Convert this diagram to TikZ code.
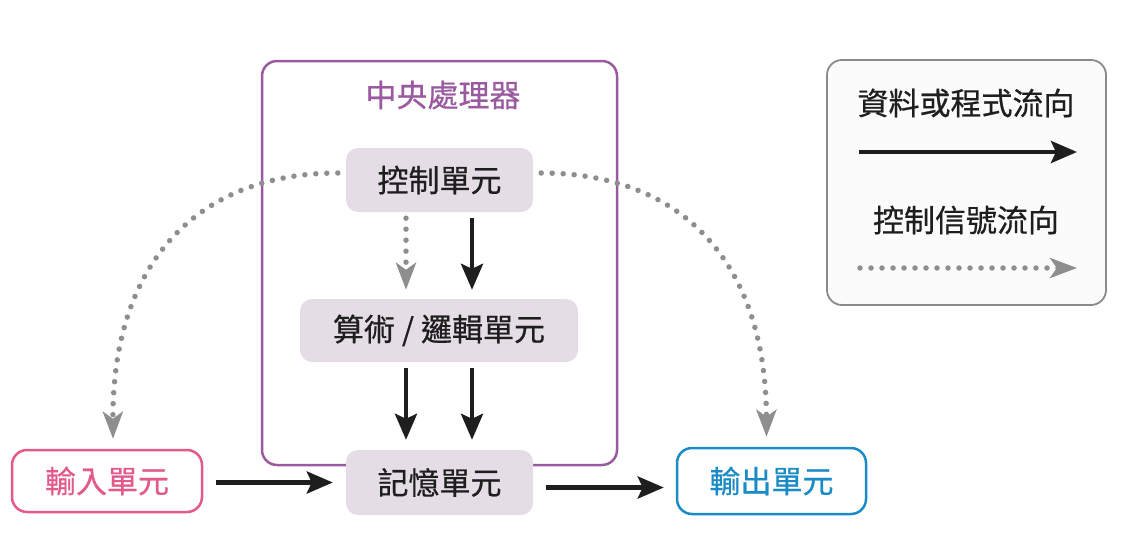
\documentclass[tikz,border=0pt]{standalone}
\usepackage{fontspec}
\setmainfont{Noto Sans CJK TC}[FakeBold=0.6]
\usetikzlibrary{arrows.meta,calc}
\definecolor{cpuc}{HTML}{9A5AA0}
\definecolor{boxfill}{HTML}{E5DDE6}
\definecolor{pinkc}{HTML}{E2598A}
\definecolor{bluec}{HTML}{1A8BC6}
\definecolor{dotgray}{HTML}{8E8E8E}
\definecolor{txt}{HTML}{1E1E1E}
\definecolor{leggray}{HTML}{8A8A8A}
\begin{document}
\begin{tikzpicture}[x=1pt,y=-1pt,
  lbl/.style={font=\fontsize{31}{33}\selectfont, text=txt, inner sep=0pt},
  unitbox/.style={lbl, fill=boxfill, rounded corners=12pt},
  iobox/.style={lbl, draw, fill=white, line width=2.5pt, rounded corners=15pt},
  flow/.style={line width=4.5pt, draw=txt, -{Stealth[length=26pt,width=22pt,inset=5pt]}},
  ctl/.style={line width=5.5pt, draw=dotgray, dash pattern=on 0pt off 11pt, line cap=round,
    -{Stealth[length=27pt,width=20pt,inset=7pt,line cap=butt,fill=dotgray]}}]
\useasboundingbox (0,0) rectangle (1135,538);
% CPU frame
\node[draw=cpuc, line width=2.5pt, rounded corners=15pt, minimum width=355pt, minimum height=404pt] (cpu) at (439.5,263) {};
\node[lbl, text=cpuc] (cputitle) at (443,95) {中央處理器};
% units
\node[unitbox, minimum width=187pt, minimum height=64pt] (ctrl) at (439.5,180) {控制單元};
\node[unitbox, minimum width=278pt, minimum height=63pt] (alu) at (439,330.5) {算術 / 邏輯單元};
\node[unitbox, minimum width=187pt, minimum height=65pt] (mem) at (439.5,482.5) {記憶單元};
\node[iobox, draw=pinkc, text=pinkc, minimum width=190pt, minimum height=62pt] (input) at (107,481) {輸入單元};
\node[iobox, draw=bluec, text=bluec, minimum width=189pt, minimum height=66pt] (out) at (771.5,481) {輸出單元};
% legend
\node[draw=leggray, line width=1.8pt, fill=gray!3, rounded corners=15pt, minimum width=279pt, minimum height=245pt] (leg) at (966.5,182.5) {};
\node[lbl] (leg1) at (966,103) {資料或程式流向};
\node[lbl] (leg2) at (966,220) {控制信號流向};
\coordinate (l1a) at (859,152);
\coordinate (l1b) at (1077,152);
\coordinate (l2a) at (860,268);
\coordinate (l2b) at (1077,268);
\draw[flow] (l1a) -- (l1b);
\draw[ctl] (l2a) -- (l2b);
% arrows inside CPU
\draw[ctl] ($(ctrl.south)+(-33.5,6)$) -- ($(alu.north)+(-33,-9)$);
\draw[flow] ($(ctrl.south)+(32.5,6)$) -- ($(alu.north)+(33,-9)$);
\draw[flow] ($(alu.south)+(-33,6)$) -- ($(mem.north)+(-33.5,-10)$);
\draw[flow] ($(alu.south)+(33,6)$) -- ($(mem.north)+(32.5,-10)$);
% input / output
\draw[flow] ($(input.east |- mem.west)+(13,0)$) -- ($(mem.west)+(-13,0)$);
\draw[flow] ($(mem.east)+(13,5)$) -- ($(mem.east -| out.west)+(-12,5)$);
% control signals
\draw[ctl] ($(ctrl.west)+(-8,-7)$) .. controls (200,173) and (112,260) .. ($(input.north)+(6,-10)$);
\draw[ctl] ($(ctrl.east)+(8,-7)$) .. controls (680,173) and (766,260) .. ($(out.north)+(-5,-10)$);
\end{tikzpicture}
\end{document}
